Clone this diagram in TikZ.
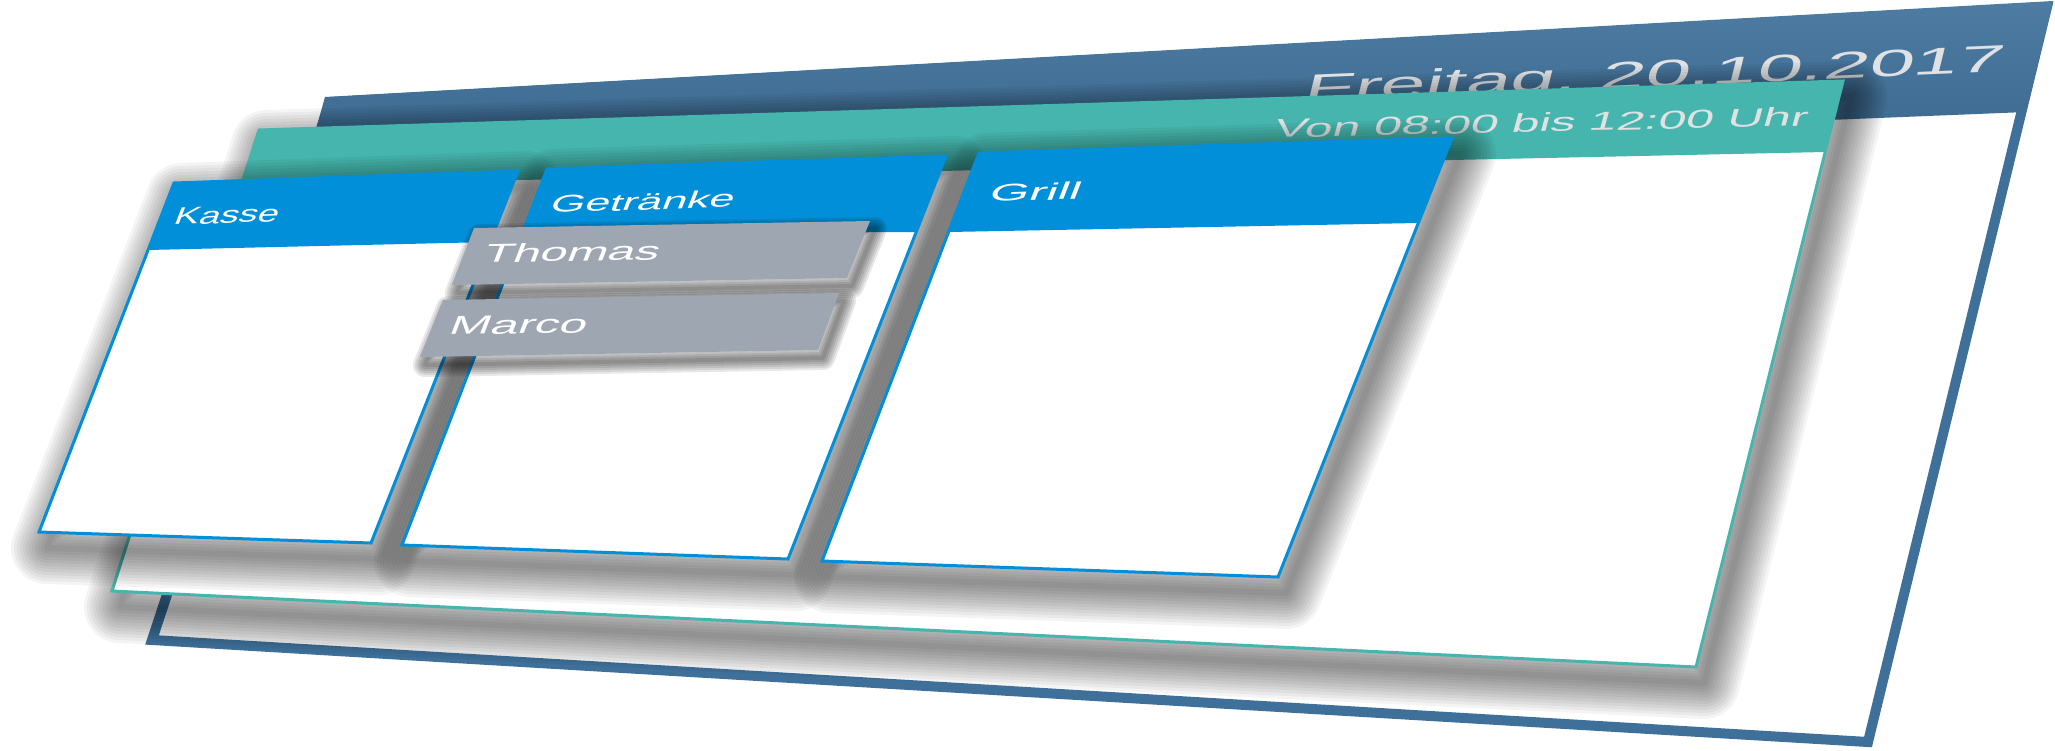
\documentclass[tikz,border=0pt]{standalone}
\usepackage{fontspec}
\setmainfont{Liberation Sans}

\definecolor{frameblue}{RGB}{62,112,154}
\definecolor{panelteal}{RGB}{69,181,173}
\definecolor{cardblue}{RGB}{0,143,216}
\definecolor{namegrey}{RGB}{158,166,178}
\definecolor{paletext}{RGB}{224,225,227}

\newcommand\softshadow[1]{%
    \foreach \w in {6,12,...,72}
        \path[shadowlayer, shift={(8,16)}, line width=\w pt] #1;
}
\newcommand\tightshadow[1]{%
    \foreach \w in {4,8,...,24}
        \path[shadowlayer, opacity=0.09, shift={(5,8)}, line width=\w pt] #1;
}

\begin{document}
\begin{tikzpicture}[x=1pt,y=-1pt,
    shadowlayer/.style={draw=black, opacity=0.045, line join=round},
    cardbody/.style={fill=white, draw=cardblue, line width=3pt},
    cardhead/.style={fill=cardblue},
    cardlabel/.style={text=white, anchor=base west, inner sep=0pt, font=\fontsize{24}{28}\selectfont},
    namelabel/.style={text=white, anchor=base west, inner sep=0pt, font=\fontsize{26}{30}\selectfont},
    panellabel/.style={text=paletext, anchor=base east, inner sep=0pt}]

    \useasboundingbox (0,0) rectangle (2055,750);

    % Day panel
    \draw[fill=white, draw=frameblue, line width=10pt] (330,102) -- (2047,7) -- (1868,742) -- (152,640) -- cycle;
    \shade[top color=frameblue!92!white, bottom color=frameblue!90!black] (325,97) -- (2053,1) -- (2026,112) -- (301,182) -- cycle;
    \node[panellabel, font=\fontsize{38}{44}\selectfont, cm={2.12,0.09,0.245,1,(0,0)}] (day) at (2002,72) {Freitag, 20.10.2017};

    % Time panel
    \softshadow{(259,130) -- (1843,81) -- (1696,667) -- (112,591) -- cycle}
    \draw[fill=white, draw=panelteal, line width=3pt] (259,130) -- (1843,81) -- (1696,667) -- (112,591) -- cycle;
    \fill[panelteal] (259,130) -- (1843,81) -- (1825,152) -- (241,186) -- cycle;
    \node[panellabel, font=\fontsize{26}{30}\selectfont, cm={1.91,0.042,0.27,1,(0,0)}] (time) at (1806,126) {Von 08:00 bis 12:00 Uhr};

    % Stations
    \softshadow{(174,183) -- (518,171) -- (371,543) -- (39,532) -- cycle}
    \softshadow{(547,169) -- (946,156) -- (788,559) -- (402,545) -- cycle}
    \softshadow{(979,153) -- (1452,138) -- (1278,577) -- (822,561) -- cycle}

    \draw[cardbody] (174,183) -- (518,171) -- (371,543) -- (39,532) -- cycle;
    \fill[cardhead] (174,183) -- (518,171) -- (490,242) -- (148,250) -- cycle;
    \node[cardlabel, cm={1.56,0.055,0.386,1,(0,0)}] (kasse) at (172,225) {Kasse};

    \draw[cardbody] (547,169) -- (946,156) -- (788,559) -- (402,545) -- cycle;
    \fill[cardhead] (547,169) -- (946,156) -- (916,232) -- (522,234) -- cycle;
    \node[cardlabel, cm={1.86,0.061,0.386,1,(0,0)}] (getraenke) at (548,213) {Getränke};

    \draw[cardbody] (979,153) -- (1452,138) -- (1278,577) -- (822,561) -- cycle;
    \fill[cardhead] (979,153) -- (1452,138) -- (1418,223) -- (949,232) -- cycle;
    \node[cardlabel, cm={2.13,0.068,0.385,1,(0,0)}] (grill) at (987,202) {Grill};

    % Names
    \tightshadow{(474,228) -- (870,221) -- (847,278) -- (452,285) -- cycle}
    \fill[namegrey] (474,228) -- (870,221) -- (847,278) -- (452,285) -- cycle;
    \node[namelabel, cm={1.87,0.034,0.386,1,(0,0)}] (thomas) at (481,263) {Thomas};

    \tightshadow{(443,300) -- (839,293) -- (818,350) -- (420,357) -- cycle}
    \fill[namegrey] (443,300) -- (839,293) -- (818,350) -- (420,357) -- cycle;
    \node[namelabel, cm={1.90,0.034,0.386,1,(0,0)}] (marco) at (447,335) {Marco};
\end{tikzpicture}
\end{document}
